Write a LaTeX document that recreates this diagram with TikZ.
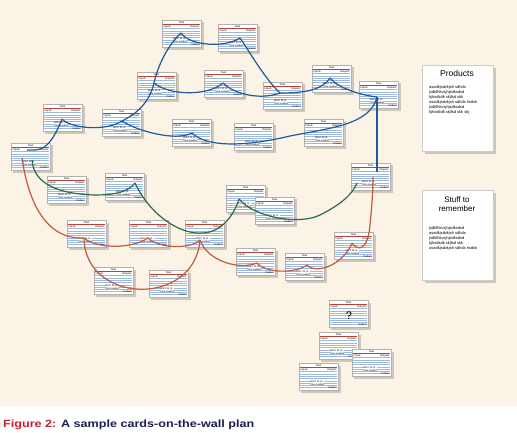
\documentclass[tikz,border=0pt]{standalone}
\usepackage{fontspec}
\setmainfont{Liberation Sans}
\usepackage{graphicx}
\definecolor{bgc}{HTML}{FAF3E6}
\definecolor{shadowc}{HTML}{CFC8BA}
\definecolor{ruleblue}{HTML}{9DB8DA}
\definecolor{redrule}{HTML}{B8432F}
\definecolor{cblue}{HTML}{1E5A9C}
\definecolor{cgreen}{HTML}{2A6B4C}
\definecolor{cred}{HTML}{C15A3E}
\definecolor{capred}{HTML}{C3222F}
\definecolor{capblue}{HTML}{1B1F4F}
\newcommand\tinyf{\fontsize{2.6pt}{3pt}\selectfont}
\newcommand\notef{\fontsize{4pt}{4.5pt}\selectfont}
\tikzset{
 cardbox/.style={draw=gray!60, line width=0.3pt, fill=white, anchor=north west,
   minimum width=39pt, minimum height=27pt, inner sep=0pt, outer sep=0pt},
 rulel/.style={ruleblue, line width=0.6pt},
 tinylbl/.style={font=\tinyf, inner sep=0pt},
 notebox/.style={draw=gray!40, line width=0.3pt, fill=white, anchor=north west,
   minimum width=71pt, inner sep=0pt, outer sep=0pt},
 notetxt/.style={font=\notef, anchor=west, inner sep=0pt},
 bconn/.style={cblue, line width=1.2pt},
 gconn/.style={cgreen, line width=1.2pt},
 rconn/.style={cred, line width=1.2pt},
}
\newcommand\taskcard[4][]{%
 \begin{scope}[shift={(#3,#4)}]
  \fill[shadowc] (2,2.5) rectangle (41.5,30);
  \node[cardbox] (#2) at (0,0) {};
  \foreach \k in {0,...,7}{\draw[rulel] (0.8,8.6+2.3*\k) -- (38.2,8.6+2.3*\k);}
  \draw[redrule, line width=0.7pt] (0.8,4.3) -- (38.2,4.3);
  \node[tinylbl] (#2-t) at (19.5,2.3) {Task};
  \node[tinylbl, anchor=west] (#2-i) at (1.5,6.4) {Inputs};
  \node[tinylbl, anchor=east] (#2-o) at (37.5,6.4) {Outputs};
  \node[tinylbl, anchor=east] (#2-d) at (38,25) {Deliver};
  \ifx\relax#1\relax
  \node[tinylbl, fill=white, align=left, font=\fontsize{2.4pt}{2.8pt}\selectfont] (#2-m) at (18,20) {Who? M. B.\\Time needed};
  \else
  \node[inner sep=0pt, font=\fontsize{11pt}{12pt}\selectfont] (#2-m) at (20,16) {#1};
  \fi
 \end{scope}}
\begin{document}
\begin{tikzpicture}[x=1pt,y=-1pt]
\useasboundingbox (0,0) rectangle (517,433);
\fill[bgc] (0,0) rectangle (517,406);
% cards
\taskcard{A}{162}{20}
\taskcard{B}{218}{24}
\taskcard{C}{137}{72}
\taskcard{D}{204}{70}
\taskcard{E}{263}{82}
\taskcard{F}{312}{65}
\taskcard{G}{359}{81}
\taskcard{H}{43}{104}
\taskcard{I}{102}{109}
\taskcard{J}{172}{119}
\taskcard{K}{234}{123}
\taskcard{L}{304}{119}
\taskcard{M}{11}{143}
\taskcard{N}{47}{176}
\taskcard{O}{105}{173}
\taskcard{P}{226}{185}
\taskcard{Q}{255}{197}
\taskcard{R}{351}{163}
\taskcard{S}{67}{220}
\taskcard{T}{129}{220}
\taskcard{U}{185}{220}
\taskcard{V}{94}{267}
\taskcard{W}{149}{270}
\taskcard{X}{236}{248}
\taskcard{Y}{285}{253}
\taskcard{Z}{334}{232}
\taskcard[?]{QQ}{329}{300}
\taskcard{BA}{319}{332}
\taskcard{BB}{352}{349}
\taskcard{BC}{299}{363}
% notes
\fill[shadowc] (425,68) rectangle (496,154);
\node[notebox, minimum height=86pt] (prod) at (422,65) {};
\node[font=\fontsize{8.5}{9}\selectfont, inner sep=0pt] (prodt) at (457,73) {Products};
\node[notetxt] (p1) at (429,87) {asadkjsdvkjsh sdhds};
\node[notetxt] (p2) at (429,92) {jsdkfhkvsjhjsdksdsd};
\node[notetxt] (p3) at (429,97) {kjhsdkdk skjfsd skk};
\node[notetxt] (p4) at (429,102) {asadkjsdvkjsh sdhds hsdsk};
\node[notetxt] (p5) at (429,107) {jsdkfhkvsjhjsdksdsd};
\node[notetxt] (p6) at (429,112) {kjhsdkdk skjfsd skk skj};
\fill[shadowc] (425,193) rectangle (496,283);
\node[notebox, minimum height=90pt] (stuff) at (422,190) {};
\node[font=\fontsize{8}{9}\selectfont, inner sep=0pt, align=center] (stufft) at (457,204) {Stuff to\\remember};
\node[notetxt] (s1) at (429,228) {jsdkfhkvsjhjsdksdsd};
\node[notetxt] (s2) at (429,233) {asadkjsdvkjsh sdhds};
\node[notetxt] (s3) at (429,238) {jsdkfhkvsjhjsdksdsd};
\node[notetxt] (s4) at (429,243) {kjhsdkdk skjfsd skk};
\node[notetxt] (s5) at (429,248) {asadkjsdvkjsh sdhds hsdsk};
% connector points
\coordinate (bM) at (27,150); \coordinate (bH) at (62,119); \coordinate (bI) at (122,121);
\coordinate (bC) at (154,83); \coordinate (bA) at (181,33); \coordinate (bB) at (240,38);
\coordinate (bD) at (223,83); \coordinate (bE) at (280,93); \coordinate (bF) at (330,78);
\coordinate (bG) at (377,97); \coordinate (bJ) at (192,133); \coordinate (bR) at (377,172);
\coordinate (gM) at (32,160); \coordinate (gO) at (135,183); \coordinate (gU) at (203,233);
\coordinate (gP) at (239,199); \coordinate (gR) at (357,183);
\coordinate (rM) at (22,158); \coordinate (rS) at (84,238); \coordinate (rT) at (148,238);
\coordinate (rU) at (200,240); \coordinate (rX) at (257,263); \coordinate (rY) at (307,265);
\coordinate (rZ) at (352,243); \coordinate (rR) at (373,177);
% blue
\draw[bconn] (bM) -- ++(8,0) .. controls (48,150) and (56,134) .. (bH);
\draw[bconn] (bH) .. controls (70,128) and (105,132) .. (bI);
\draw[bconn] (bI) .. controls (140,112) and (150,100) .. (bC) .. controls (158,65) and (168,45) .. (bA);
\draw[bconn] (bC) .. controls (170,96) and (208,96) .. (bD);
\draw[bconn] (bA) .. controls (190,46) and (225,48) .. (bB);
\draw[bconn] (bB) .. controls (246,46) and (264,78) .. (bE);
\draw[bconn] (bD) .. controls (235,95) and (262,100) .. (bE);
\draw[bconn] (bE) .. controls (305,93) and (322,90) .. (bF);
\draw[bconn] (bF) .. controls (338,88) and (360,95) .. (bG);
\draw[bconn] (bI) .. controls (135,130) and (175,142) .. (bJ);
\draw[bconn] (bJ) .. controls (205,146) and (240,148) .. (290,136) .. controls (330,128) and (370,125) .. (bG);
\draw[bconn] (bG) -- (bR);
% green
\draw[gconn] (gM) .. controls (34,185) and (60,194) .. (95,195) .. controls (115,195) and (128,192) .. (gO);
\draw[gconn] (gO) .. controls (150,215) and (180,235) .. (gU) .. controls (222,232) and (234,215) .. (gP);
\draw[gconn] (gP) .. controls (255,218) and (300,225) .. (320,215) .. controls (340,205) and (352,195) .. (gR);
% red
\draw[rconn] (rM) .. controls (28,200) and (45,240) .. (rS);
\draw[rconn] (rS) .. controls (95,248) and (130,250) .. (rT);
\draw[rconn] (rT) .. controls (158,248) and (190,250) .. (rU);
\draw[rconn] (rS) .. controls (85,305) and (195,307) .. (rU);
\draw[rconn] (rU) .. controls (208,262) and (240,270) .. (rX);
\draw[rconn] (rX) .. controls (265,273) and (295,274) .. (rY);
\draw[rconn] (rY) .. controls (318,276) and (345,262) .. (rZ);
\draw[rconn] (rZ) .. controls (358,252) and (368,250) .. (370,225) .. controls (372,205) and (373,190) .. (rR);
% caption
\node[anchor=base west, inner sep=0pt, font=\bfseries\fontsize{10.5pt}{12pt}\selectfont] (cap) at (3,427)
  {\scalebox{1.2}[1]{\textcolor{capred}{Figure 2:} \textcolor{capblue}{A sample cards-on-the-wall plan}}};
\end{tikzpicture}
\end{document}
